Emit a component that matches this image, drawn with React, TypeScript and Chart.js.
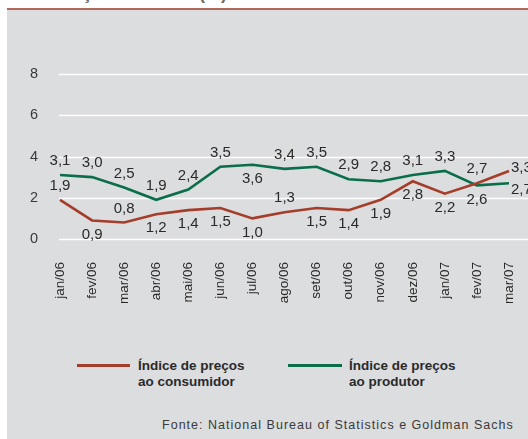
import React, { useEffect, useRef } from "react";
import { Chart, registerables } from "chart.js";

Chart.register(...registerables);

const categories = ["jan/06", "fev/06", "mar/06", "abr/06", "mai/06", "jun/06", "jul/06", "ago/06", "set/06", "out/06", "nov/06", "dez/06", "jan/07", "fev/07", "mar/07"];
const cpiValues = [1.9, 0.9, 0.8, 1.2, 1.4, 1.5, 1.0, 1.3, 1.5, 1.4, 1.9, 2.8, 2.2, 2.7, 3.3];
const ppiValues = [3.1, 3.0, 2.5, 1.9, 2.4, 3.5, 3.6, 3.4, 3.5, 2.9, 2.8, 3.1, 3.3, 2.6, 2.7];
const cpiLabelPos = ["t", "b", "t", "b", "b", "b", "b", "t", "b", "b", "b", "b", "b", "t", "r"];
const ppiLabelPos = ["t", "t", "t", "t", "t", "t", "b", "t", "t", "t", "t", "t", "t", "b", "rb"];
const yTicks = [0, 2, 4, 6, 8];

const CPI_COLOR = "#a53d2b";
const PPI_COLOR = "#0b6e4a";
const FONT = '"Liberation Sans", Arial, Helvetica, sans-serif';

const gridPlugin = {
  id: "customGrid",
  beforeDatasetsDraw(chart: any) {
    const { ctx, chartArea } = chart;
    const y = chart.scales.y;
    ctx.save();
    ctx.strokeStyle = "#ffffff";
    ctx.lineWidth = 1.6;
    yTicks.forEach((t) => {
      const py = Math.round(y.getPixelForValue(t)) + 0.5;
      ctx.beginPath();
      ctx.moveTo(chartArea.left - 1, py);
      ctx.lineTo(chart.width, py);
      ctx.stroke();
    });
    ctx.restore();
  },
};

const labelPlugin = {
  id: "valueLabels",
  afterDatasetsDraw(chart: any) {
    const ctx = chart.ctx;
    ctx.save();
    ctx.font = `15px ${FONT}`;
    ctx.fillStyle = "#2a2a2a";
    chart.data.datasets.forEach((ds: any, di: number) => {
      const meta = chart.getDatasetMeta(di);
      const pos = ds.labelPos as string[];
      meta.data.forEach((pt: any, i: number) => {
        const v = ds.data[i] as number;
        const text = v.toFixed(1).replace(".", ",");
        const p = pos[i];
        let x = pt.x;
        let y = pt.y;
        ctx.textBaseline = "middle";
        if (p === "t") {
          ctx.textAlign = "center";
          y -= 14;
        } else if (p === "b") {
          ctx.textAlign = "center";
          y += 14;
        } else if (p === "r") {
          ctx.textAlign = "left";
          x += 2;
          y -= 3;
        } else {
          ctx.textAlign = "left";
          x += 2;
          y += 7;
        }
        ctx.fillText(text, x, y);
      });
    });
    ctx.restore();
  },
};

export default function App() {
  const canvasRef = useRef<HTMLCanvasElement | null>(null);

  useEffect(() => {
    document.body.style.margin = "0";
    const chart = new Chart(canvasRef.current as HTMLCanvasElement, {
      type: "line",
      data: {
        labels: categories,
        datasets: [
          {
            label: "Índice de preços ao consumidor",
            data: cpiValues,
            borderColor: CPI_COLOR,
            borderWidth: 2.6,
            pointRadius: 0,
            tension: 0,
            clip: false,
            labelPos: cpiLabelPos,
          } as any,
          {
            label: "Índice de preços ao produtor",
            data: ppiValues,
            borderColor: PPI_COLOR,
            borderWidth: 2.6,
            pointRadius: 0,
            tension: 0,
            clip: false,
            labelPos: ppiLabelPos,
          } as any,
        ],
      },
      options: {
        animation: false,
        responsive: false,
        maintainAspectRatio: false,
        layout: { padding: { top: 64, right: 19, left: 0, bottom: 0 } },
        plugins: { legend: { display: false }, tooltip: { enabled: false } },
        scales: {
          x: {
            offset: false,
            grid: { display: false, drawTicks: false },
            border: { display: false },
            ticks: {
              maxRotation: 90,
              minRotation: 90,
              autoSkip: false,
              padding: 23,
              color: "#2a2a2a",
              font: { family: FONT, size: 13.5 },
            },
            afterFit(scale: any) {
              scale.height = 81;
              scale.paddingLeft = 0;
              scale.paddingRight = 0;
            },
          },
          y: {
            min: 0,
            max: 8,
            grid: { display: false, drawTicks: false },
            border: { display: false },
            ticks: {
              stepSize: 2,
              padding: 22,
              color: "#3a3a3a",
              font: { family: FONT, size: 14.5 },
            },
            afterFit(scale: any) {
              scale.width = 53;
            },
          },
        },
      },
      plugins: [gridPlugin, labelPlugin],
    });
    return () => chart.destroy();
  }, []);

  return (
    <div style={{ position: "absolute", left: 0, top: 0, width: 528, height: 439, overflow: "hidden", background: "#ffffff", fontFamily: FONT }}>
      <div style={{ position: "absolute", left: 45, top: -17, fontSize: 18, fontWeight: "bold", color: "#6b6b6b", whiteSpace: "nowrap", lineHeight: "20px" }}>
        Inflação na China (%)
      </div>
      <div style={{ position: "absolute", left: 7, top: 8, width: 521, height: 2, background: "#b0685b" }} />
      <div style={{ position: "absolute", left: 7, top: 10, width: 521, height: 429, background: "#dcdddf" }} />
      <canvas ref={canvasRef} width={521} height={310} style={{ position: "absolute", left: 7, top: 10, width: 521, height: 310 }} />
      <div style={{ position: "absolute", left: 77, top: 364, width: 53, height: 3, background: CPI_COLOR }} />
      <div style={{ position: "absolute", left: 138, top: 358, fontSize: 13.5, fontWeight: "bold", lineHeight: "16px", color: "#2a2a2a" }}>
        Índice de preços<br />ao consumidor
      </div>
      <div style={{ position: "absolute", left: 288, top: 364, width: 54, height: 3, background: PPI_COLOR }} />
      <div style={{ position: "absolute", left: 349, top: 358, fontSize: 13.5, fontWeight: "bold", lineHeight: "16px", color: "#2a2a2a" }}>
        Índice de preços<br />ao produtor
      </div>
      <div style={{ position: "absolute", left: 162, top: 418, fontSize: 12.5, letterSpacing: 1.02, color: "#3a3a3a", whiteSpace: "nowrap" }}>
        Fonte: National Bureau of Statistics e Goldman Sachs
      </div>
    </div>
  );
}
